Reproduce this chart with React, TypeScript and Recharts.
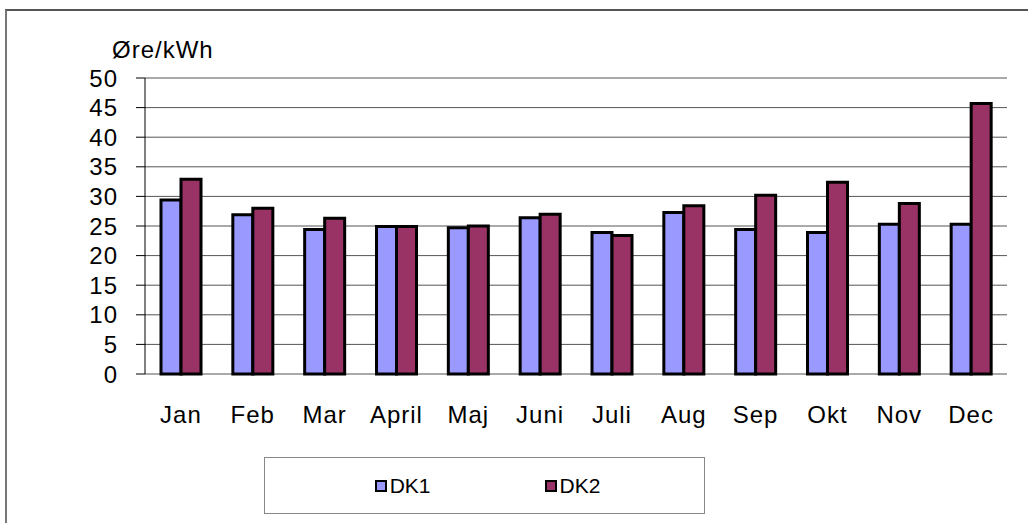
import { BarChart, Bar, XAxis, YAxis, CartesianGrid } from "recharts";

const months = ["Jan", "Feb", "Mar", "April", "Maj", "Juni", "Juli", "Aug", "Sep", "Okt", "Nov", "Dec"];
const dk1 = [29.4, 26.9, 24.4, 24.9, 24.7, 26.4, 23.9, 27.3, 24.4, 23.9, 25.3, 25.3];
const dk2 = [32.9, 28.0, 26.3, 24.9, 25.0, 27.0, 23.4, 28.4, 30.2, 32.4, 28.8, 45.7];
const yTicks = [0, 5, 10, 15, 20, 25, 30, 35, 40, 45, 50];
const unitLabel = "Øre/kWh";

const series = [
  { key: "DK1", values: dk1, color: "#9999FF" },
  { key: "DK2", values: dk2, color: "#993366" },
];

const data = months.map((m, i) => ({ month: m, DK1: dk1[i], DK2: dk2[i] }));
const edgeTicks = months.map((_, i) => i).concat(months.length);

const font = "'Liberation Sans', Arial, sans-serif";

export default function App() {
  return (
    <div style={{ position: "absolute", left: 0, top: 0, width: 1028, height: 523, overflow: "hidden", background: "#fff", fontFamily: font }}>
      <div style={{ position: "absolute", left: 5, top: 9, width: 1100, height: 600, borderLeft: "2px solid #777", borderTop: "2px solid #555" }} />
      <BarChart
        width={1028}
        height={523}
        data={data}
        margin={{ top: 78, right: 21, bottom: 89, left: 0 }}
        barGap={0}
        barSize={20}
        style={{ position: "absolute", left: 0, top: 0 }}
      >
        <CartesianGrid vertical={false} stroke="#555" />
        <XAxis
          xAxisId="edges"
          type="number"
          domain={[0, months.length]}
          ticks={edgeTicks}
          height={0}
          tick={false}
          tickSize={8}
          tickLine={{ stroke: "#888" }}
          axisLine={{ stroke: "#000" }}
        />
        <XAxis
          dataKey="month"
          height={60}
          tickLine={false}
          axisLine={false}
          tickSize={0}
          tickMargin={32}
          interval={0}
          tick={{ fill: "#000", fontSize: 24, fontFamily: font, letterSpacing: 1 }}
        />
        <YAxis
          width={145}
          domain={[0, 50]}
          ticks={yTicks}
          interval={0}
          tickSize={9}
          tickMargin={18}
          axisLine={{ stroke: "#000" }}
          tickLine={{ stroke: "#000" }}
          tick={{ fill: "#000", fontSize: 24, fontFamily: font, letterSpacing: 1 }}
          label={{
            content: (p: any) => (
              <text x={p.viewBox.x + 112} y={p.viewBox.y - 20} fontSize={24} fontFamily={font} letterSpacing={1} fill="#000">
                {unitLabel}
              </text>
            ),
          }}
        />
        {series.map((s) => (
          <Bar key={s.key} dataKey={s.key} fill={s.color} stroke="#000" strokeWidth={3} isAnimationActive={false} />
        ))}
      </BarChart>
      <div
        style={{
          position: "absolute",
          left: 264,
          top: 457,
          width: 441,
          height: 57,
          border: "1px solid #888",
          display: "flex",
          alignItems: "center",
          justifyContent: "center",
          gap: 114,
          paddingLeft: 6,
          boxSizing: "border-box",
        }}
      >
        {series.map((s) => (
          <div key={s.key} style={{ display: "flex", alignItems: "center", fontSize: 21, color: "#000" }}>
            <span style={{ display: "inline-block", width: 8, height: 8, background: s.color, border: "2px solid #000", marginRight: 3 }} />
            {s.key}
          </div>
        ))}
      </div>
    </div>
  );
}
